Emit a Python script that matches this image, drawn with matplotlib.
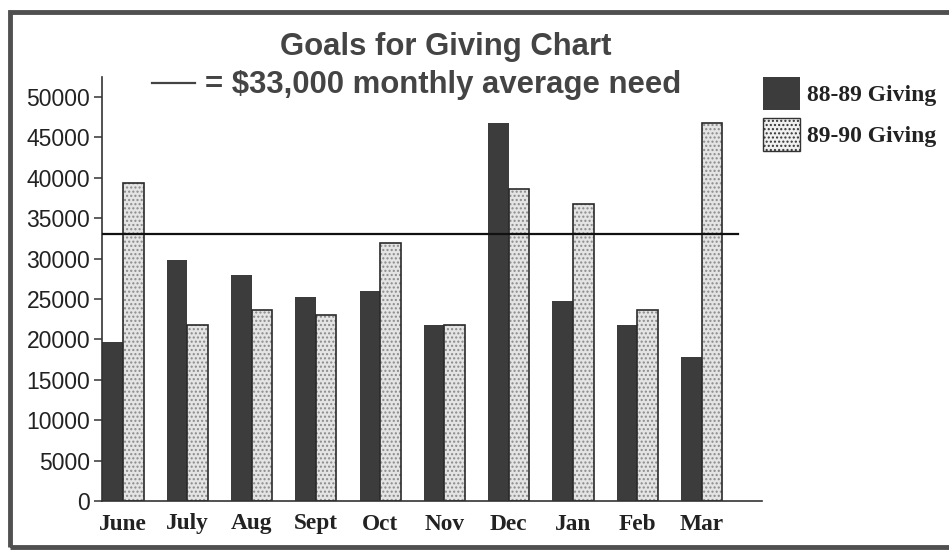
import matplotlib.pyplot as plt
import numpy as np
from matplotlib.patches import Patch, Rectangle
from matplotlib.lines import Line2D

# data
months = ['June', 'July', 'Aug', 'Sept', 'Oct', 'Nov', 'Dec', 'Jan', 'Feb', 'Mar']
giving_88_89 = [19700, 29800, 28000, 25300, 26000, 21800, 46800, 24800, 21800, 17800]
giving_89_90 = [39300, 21800, 23700, 23000, 31900, 21800, 38600, 36800, 23700, 46800]
monthly_need = 33000
y_ticks = [0, 5000, 10000, 15000, 20000, 25000, 30000, 35000, 40000, 45000, 50000]

W, H = 949, 552
DARK = '#3c3c3c'
LIGHT = '#e4e4e4'
TEXT = '#222222'
serif = ['Liberation Serif', 'DejaVu Serif']
sans = ['Liberation Sans', 'DejaVu Sans']

fig = plt.figure(figsize=(W / 100, H / 100), dpi=100)

# outer frame of the scanned page
fig.add_artist(Rectangle((10 / W, 5 / H), 1.2, 535 / H, transform=fig.transFigure,
                         fill=False, edgecolor='#505050', linewidth=3.5))

ax = fig.add_axes([102 / W, 51 / H, 660 / W, 424 / H])
x = np.arange(len(months))
w = 0.32

ax.bar(x - w / 2, giving_88_89, width=w, color=DARK, linewidth=0)
# stippled bars: hatch first, outline on top
ax.bar(x + w / 2, giving_89_90, width=w, color=LIGHT, hatch='....',
       edgecolor='#8a8a8a', linewidth=0)
ax.bar(x + w / 2, giving_89_90, width=w, fill=False, edgecolor='#2a2a2a', linewidth=1.2)

ax.axhline(monthly_need, xmin=0, xmax=0.964, color='#111111', linewidth=1.6, zorder=5)

ax.set_xlim(-0.327, 9.94)
ax.set_ylim(0, 52480)
ax.set_yticks(y_ticks)
ax.set_yticklabels([str(v) for v in y_ticks], family=sans, fontsize=16.5, color=TEXT)
ax.set_xticks(x)
ax.set_xticklabels(months, family=serif, fontweight='bold', fontsize=16.8, color=TEXT)
ax.tick_params(axis='x', length=0, pad=9)
ax.tick_params(axis='y', length=5.5, width=1.1, color='#333333', pad=3)
for side in ['top', 'right']:
    ax.spines[side].set_visible(False)
for side in ['left', 'bottom']:
    ax.spines[side].set_linewidth(1.2)
    ax.spines[side].set_color('#333333')

# title, two lines
fig.text(446 / W, 1 - 55 / H, 'Goals for Giving Chart', ha='center', va='baseline',
         family=sans, fontweight='bold', fontsize=22.4, color='#444444')
fig.add_artist(Line2D([152 / W, 195 / W], [1 - 83 / H, 1 - 83 / H],
                      transform=fig.transFigure, color='#444444', linewidth=1.6))
fig.text(205 / W, 1 - 93 / H, '= $33,000 monthly average need', ha='left', va='baseline',
         family=sans, fontweight='bold', fontsize=22.4, color='#444444')

handles = [Patch(facecolor=DARK, edgecolor=DARK, linewidth=0),
           Patch(facecolor='#f0f0f0', edgecolor='#333333', hatch='....', linewidth=1)]
fig.legend(handles, ['88-89 Giving', '89-90 Giving'], loc='upper left',
           bbox_to_anchor=(763 / W, 1 - 77 / H), frameon=False, borderpad=0,
           borderaxespad=0, handlelength=1.55, handleheight=1.75, handletextpad=0.3,
           labelspacing=0.35, prop={'family': serif, 'weight': 'bold', 'size': 17})
for t in fig.legends[0].get_texts():
    t.set_color(TEXT)

fig.savefig('out.png', dpi=100)
